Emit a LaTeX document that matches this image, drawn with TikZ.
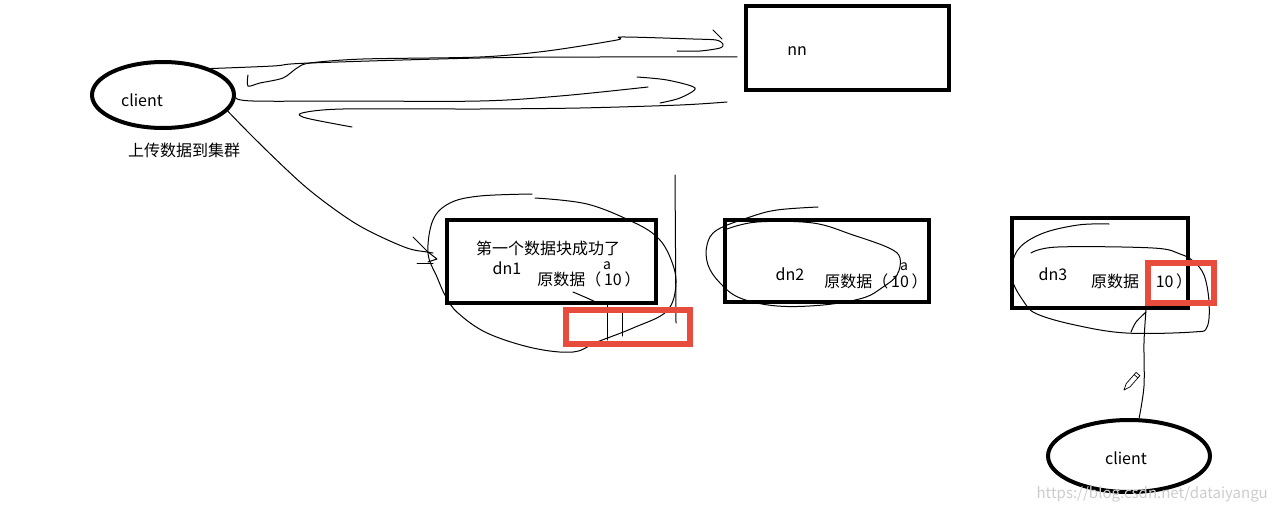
\documentclass[tikz,border=0pt]{standalone}
\usepackage{fontspec}
\setmainfont{Noto Sans CJK SC}
\usepackage{tikz}
\usetikzlibrary{positioning, shapes.geometric}
\definecolor{markred}{HTML}{E84C3D}

\begin{document}
\begin{tikzpicture}[x=1pt, y=-1pt,
	box/.style={draw, line width=4pt, inner sep=0pt},
	ring/.style={draw, ellipse, line width=4pt, inner sep=0pt},
	markbox/.style={draw=markred, line width=6pt, inner sep=0pt},
	txt/.style={inner sep=0pt, font=\fontsize{16}{19}\selectfont},
	small/.style={inner sep=0pt, font=\fontsize{14}{16}\selectfont},
	pen/.style={line width=1pt, line cap=round, line join=round}]
\useasboundingbox (0, 0) rectangle (1274, 511);
\node[ring, minimum width=142pt, minimum height=66pt] (client 1) at (163, 95) {};
\node[ring, minimum width=162pt, minimum height=72pt] (client 2) at (1129, 456) {};
\node[box, minimum width=203pt, minimum height=84pt] (nn) at (847.5, 48) {};
\foreach \n/\cx/\cy/\w/\h in {1/551.5/261.5/209/83, 2/827/261/204/82, 3/1100/263/176/90}
	\node[box, minimum width=\w pt, minimum height=\h pt] (dn\n) at (\cx, \cy) {};
\node[txt] (client 1-name) at (142, 100) {client};
\node[txt] (client 2-name) at (1126, 458) {client};
\node[txt] (upload) at (184, 150) {上传数据到集群};
\node[txt] (nn-name) at (797, 51) {nn};
\node[txt] (dn1-ok) at (548, 248) {第一个数据块成功了};
\foreach \n/\cx/\cy in {1/507/268, 2/790/274, 3/1053/274}
	\node[txt] (dn\n-name) at (\cx, \cy) {dn\n};
\foreach \n/\cx/\cy in {1/589/279, 2/876/281}
	\node[txt] (dn\n-data) at (\cx, \cy) {原数据（\,10\,）};
\foreach \n/\cx/\cy in {1/607/266, 2/904/267}
	\node[small] (dn\n-a) at (\cx, \cy) {a};
\node[txt] (dn3-data) at (1115, 281) {原数据};
\node[txt] (dn3-val) at (1174, 281) {10\,）};
\node[txt, anchor=east, text=gray!40, font=\fontsize{15}{18}\selectfont] (site) at (1268, 494) {https://blog.csdn.net/dataiyangu};
\draw[pen] plot[smooth, tension=0.6] coordinates {(client 1.29) (273,66) (310,63) (480,58) (600,57) (737,57)};
\draw[pen] plot[smooth, tension=0.5] coordinates {(248,75) (248,86) (260,83) (283,78) (297,68) (310,63) (363,59) (480,57) (547,51) (617,40) (622,37) (693,39) (716,40) (723,44) (720,48) (700,51) (677,51)};
\draw[pen] (713,30) -- (722,39);
\draw[pen] plot[smooth, tension=0.6] coordinates {(client 1.-2) (253,101) (350,101) (480,101) (560,96) (648,87)};
\draw[pen] plot[smooth, tension=0.5] coordinates {(637,77) (667,80) (695,88) (680,98) (660,103)};
\draw[pen] plot[smooth, tension=0.5] coordinates {(727,102) (680,105) (580,108) (480,109) (343,109) (302,113) (306,118) (352,127)};
\draw[pen] plot[smooth, tension=0.6] coordinates {(client 1.-14) (253,137) (287,170) (313,193) (347,218) (373,233) (407,248) (427,252) (433,253)};
\draw[pen] (413,237) -- (428,252) -- (437,259) -- (428,262);
\draw[pen] (417,263) -- (433,263);
\draw[pen] plot[smooth, tension=0.6] coordinates {(532,194) (480,196) (450,203) (433,220) (428,253) (437,277) (446,297) (458,313) (487,333) (533,348) (573,352) (597,342) (633,328) (667,311) (676,283) (670,257) (657,237) (633,222) (587,204) (535,198)};
\draw[pen] plot[smooth] coordinates {(573,292) (587,298) (600,304)};
\draw[pen] (675,175) -- (676,323);
\draw[pen] (607,305) -- (607,340);
\draw[pen] (622,308) -- (622,336);
\draw[pen] plot[smooth, tension=0.6] coordinates {(818,207) (777,210) (750,217) (717,230) (707,245) (708,265) (720,283) (740,298) (777,306) (823,305) (863,298) (883,287) (897,275) (900,258) (889,248) (853,235) (813,223) (757,222) (727,229)};
\draw[pen] plot[smooth, tension=0.6] coordinates {(1109,224) (1078,225) (1041,234) (1017,251) (1012,278) (1024,302) (1037,314) (1075,325) (1126,333) (1193,332) (1207,327) (1209,302) (1204,275) (1193,261) (1180,254) (1153,248) (1058,247) (1031,253)};
\draw[pen] plot[smooth, tension=0.5] coordinates {(client 2.75) (1144,386) (1144,342) (1146,310)};
\draw[pen] plot[smooth] coordinates {(1146,312) (1136,322) (1131,332)};
\draw[line width=0.7pt, line join=round] (1139.9,375.6) -- (1136.1,372.4) -- (1126.2,383.6) -- (1124,390) -- (1130,386.9) -- cycle;
\draw[line width=0.7pt] (1137.9,377.9) -- (1134.1,374.6);
\node[markbox, minimum width=124pt, minimum height=34pt] (mark 1) at (628, 327) {};
\node[markbox, minimum width=66pt, minimum height=40pt] (mark 2) at (1181, 283) {};
\end{tikzpicture}
\end{document}
